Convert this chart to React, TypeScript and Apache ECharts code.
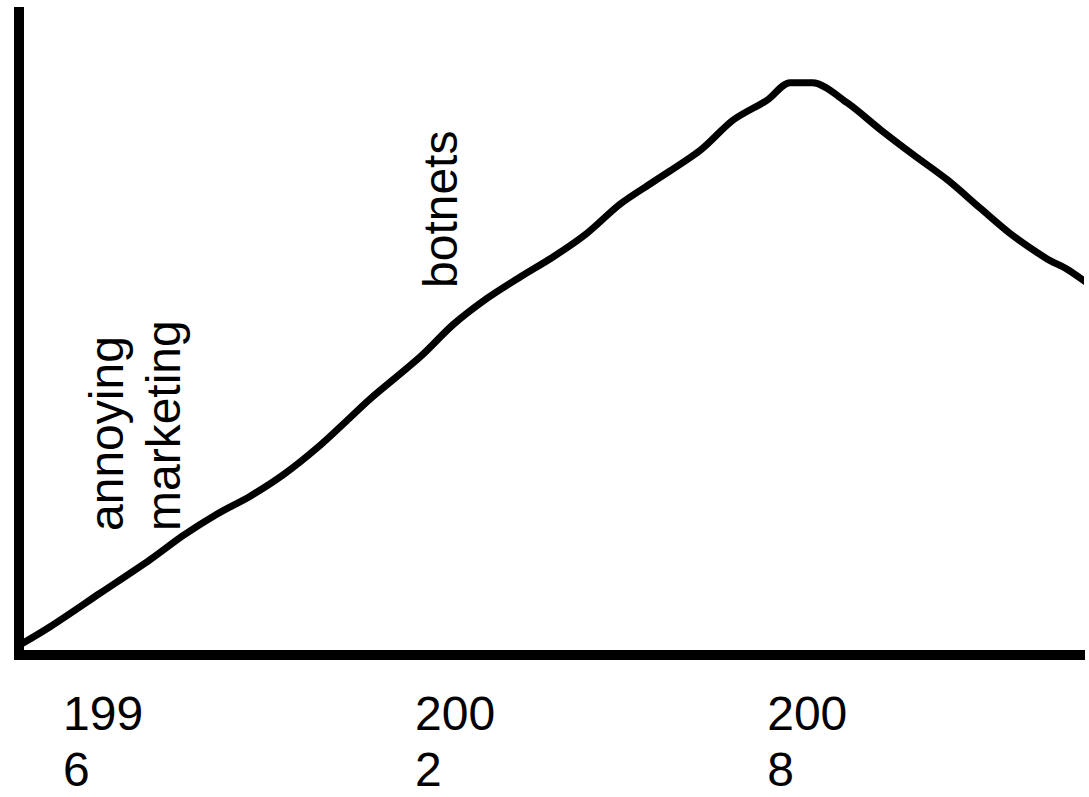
import React, { useEffect, useRef } from "react";
import * as echarts from "echarts";

// Curve: [year, level]
const years = [
  1995.27, 1995.78, 1996.63, 1997.48, 1998.05, 1998.62, 1999.19, 1999.75,
  2000.33, 2000.89, 2001.23, 2002.09, 2002.65, 2003.23, 2003.79, 2004.35,
  2004.93, 2005.49, 2006.06, 2006.86, 2007.42, 2008.0, 2008.39, 2008.77,
  2009.36, 2009.93, 2010.49, 2011.07, 2011.63, 2012.19, 2012.77, 2013.11,
  2013.49,
];
const levels = [
  1.6, 4.4, 9.6, 14.8, 18.6, 21.9, 24.7, 28.0,
  32.2, 36.9, 39.8, 46.4, 51.4, 55.5, 58.8, 61.9,
  65.6, 70.1, 73.6, 78.5, 83.2, 86.3, 89.0, 89.0,
  85.9, 81.7, 77.8, 73.9, 69.5, 65.2, 61.6, 60.0,
  57.6,
];
const tickYears = [1996, 2002, 2008];
const annotations = ["annoying\nmarketing", "botnets"];

const FONT = '"Liberation Sans", Arial, sans-serif';

export default function App() {
  const ref = useRef<HTMLDivElement>(null);
  useEffect(() => {
    if (!ref.current) return;
    const chart = echarts.init(ref.current, null, { renderer: "svg" });
    const data = years.map((y, i) => [y, levels[i]]);
    chart.setOption({
      animation: false,
      backgroundColor: "#ffffff",
      grid: { left: 19, top: 12, right: 9, bottom: 142 },
      xAxis: {
        type: "value",
        min: 1995.25,
        max: 2013.33,
        axisLine: {
          show: true,
          lineStyle: { color: "#000", width: 10, cap: "square" },
        },
        axisTick: { show: false },
        splitLine: { show: false },
        axisLabel: {
          customValues: tickYears,
          align: "left",
          fontSize: 48,
          lineHeight: 56,
          margin: 30,
          color: "#000",
          fontFamily: FONT,
          formatter: (v: number) => {
            const s = String(Math.round(v));
            return s.slice(0, 3) + "\n" + s.slice(3);
          },
        },
      },
      yAxis: {
        type: "value",
        min: 0,
        max: 100,
        axisLine: {
          show: true,
          lineStyle: { color: "#000", width: 10, cap: "square" },
        },
        axisTick: { show: false },
        splitLine: { show: false },
        axisLabel: { show: false },
      },
      series: [
        {
          type: "line",
          data,
          symbol: "none",
          smooth: 0.3,
          clip: false,
          lineStyle: { color: "#000", width: 7, cap: "round", join: "round" },
        },
      ],
      graphic: [
        {
          type: "text",
          x: 135,
          y: 531,
          rotation: Math.PI / 2,
          style: {
            text: annotations[0],
            fontSize: 48,
            fontFamily: FONT,
            lineHeight: 57,
            fill: "#000",
            align: "left",
            verticalAlign: "middle",
            textAlign: "left",
            textVerticalAlign: "middle",
          },
        },
        {
          type: "text",
          x: 440,
          y: 288,
          rotation: Math.PI / 2,
          style: {
            text: annotations[1],
            fontSize: 48,
            fontFamily: FONT,
            lineHeight: 57,
            fill: "#000",
            align: "left",
            verticalAlign: "middle",
            textAlign: "left",
            textVerticalAlign: "middle",
          },
        },
      ],
    });
    return () => chart.dispose();
  }, []);
  return (
    <div
      ref={ref}
      style={{ position: "absolute", left: 0, top: 0, width: 1089, height: 797 }}
    />
  );
}
